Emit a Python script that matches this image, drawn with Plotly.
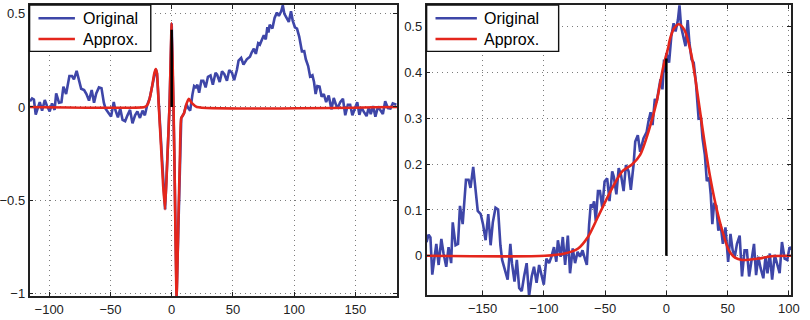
import plotly.graph_objects as go

# Measured signal (sample position, amplitude)
sig_x = [-195.7, -194.0, -192.5, -191.0, -189.0, -187.7, -185.8, -183.6, -181.8, -179.6,
         -177.7, -175.6, -174.3, -172.0, -170.0, -168.4, -166.2, -163.5, -161.4, -159.8,
         -157.6, -155.5, -153.9, -151.5, -149.6, -147.5, -145.3, -143.4, -141.6, -139.4,
         -137.3, -135.4, -134.0, -131.4, -129.5, -127.3, -126.0, -123.9, -122.0, -120.1,
         -118.0, -116.1, -114.0, -112.0, -109.9, -108.0, -105.9, -103.8, -101.9, -100.0,
         -97.9, -95.7, -93.8, -91.7, -89.8, -88.5, -86.3, -84.5, -82.6, -80.4,
         -78.6, -76.4, -74.5, -72.4, -70.5, -68.4, -66.5, -64.9, -63.0, -61.7,
         -60.3, -59.0, -57.6, -55.8, -54.2, -52.3, -50.4, -48.3, -46.4, -44.2,
         -42.9, -40.8, -38.9, -37.0, -34.9, -33.0, -30.8, -29.0, -26.8, -25.4,
         -23.3, -21.4, -18.7, -16.1, -14.7, -12.9, -11.3, -9.4, -8.0, -6.7,
         -4.8, -3.2, -1.9, -1.0, 0.0, 2.2, 4.0, 5.9, 7.5, 9.4,
         10.7, 12.0, 13.9, 15.6, 17.4, 18.8, 20.6, 22.3, 24.1, 26.3,
         28.2, 29.5, 31.4, 33.0, 34.9, 36.2, 37.5, 38.9, 40.7, 42.4,
         44.2, 46.1, 48.2, 50.4, 52.3, 54.1, 55.8, 57.6, 59.8, 61.7,
         63.8, 65.7, 67.5, 69.7, 71.5, 73.2, 75.0, 76.9, 79.1, 80.9,
         82.5, 84.4, 86.3, 88.4, 90.3, 92.4, 94.3, 96.5, 98.6, 100.5, 103.4]
sig_y = [0.030, 0.046, 0.040, -0.041, 0.000, 0.026, -0.020, 0.037, 0.005, -0.024,
         0.019, -0.016, 0.073, 0.023, 0.026, 0.109, 0.069, 0.166, 0.166, 0.148,
         0.194, 0.144, 0.098, 0.091, 0.069, 0.034, 0.091, 0.023, 0.073, 0.105,
         0.101, 0.023, -0.009, -0.034, -0.052, 0.026, -0.016, -0.056, -0.009, -0.070,
         -0.077, -0.045, -0.016, -0.088, -0.045, -0.024, -0.059, -0.020, -0.045, -0.063,
         -0.006, -0.016, -0.002, 0.019, -0.013, 0.034, -0.002, 0.041, -0.020, 0.044,
         -0.038, 0.016, -0.016, 0.009, -0.002, 0.012, -0.006, -0.020, 0.069, 0.112,
         0.105, 0.119, 0.076, 0.141, 0.141, 0.105, 0.162, 0.169, 0.119, 0.184,
         0.173, 0.134, 0.191, 0.176, 0.141, 0.198, 0.184, 0.144, 0.198, 0.249,
         0.263, 0.227, 0.256, 0.270, 0.292, 0.313, 0.285, 0.342, 0.335, 0.356,
         0.385, 0.363, 0.428, 0.400, 0.442, 0.421, 0.478, 0.507, 0.489, 0.514,
         0.546, 0.500, 0.478, 0.457, 0.514, 0.464, 0.428, 0.421, 0.378, 0.299,
         0.300, 0.256, 0.220, 0.163, 0.170, 0.134, 0.069, 0.112, 0.109, 0.055,
         0.069, 0.026, 0.062, -0.013, 0.048, 0.012, -0.002, 0.026, 0.044, -0.045,
         0.012, 0.012, -0.045, -0.009, 0.026, -0.042, -0.002, -0.027, -0.049, -0.002,
         -0.038, 0.005, -0.052, 0.002, -0.016, -0.038, 0.030, -0.006, -0.009, 0.019, 0.012]

# Lag between the two views of the signal
lag = 80.0

# Left panel approximation (oscillating pulse around the origin)
wav_x = [-116, -22, -20, -18, -16, -14.2, -13, -12, -10.5, -8.8, -7, -5.4, -3.5, -1.8, 0,
         1.5, 2.2, 4, 5.5, 6.7, 7.8, 10, 12, 14, 16.5, 20.5, 184]
wav_y = [0, 0, 0.01, 0.045, 0.11, 0.18, 0.203, 0.18, 0, -0.2, -0.42, -0.55, -0.27, 0, 0.45,
         0, -0.27, -1.02, -0.6, -0.27, -0.06, -0.035, 0.015, 0.044, 0.02, 0, 0]

# Right panel approximation (smooth envelope)
env_x = [-196, -99, -83, -72, -64, -56, -45.5, -36, -28, -21.4, -14.7, -8, -2.7, 1.4, 2.7,
         6, 10.2, 14.8, 20.1, 24.1, 29.5, 34.9, 40.2, 45.6, 51, 56, 61.7, 75, 85.8, 102]
env_y = [0, 0, 0.005, 0.016, 0.041, 0.084, 0.141, 0.184, 0.199, 0.22, 0.27, 0.335, 0.41,
         0.453, 0.47, 0.495, 0.505, 0.492, 0.442, 0.378, 0.277, 0.184, 0.112, 0.055, 0.012,
         -0.004, -0.009, -0.006, -0.001, 0]

# Stem heights at the origin
stem_left = 0.415
stem_right = 0.43

left_xticks = [-100, -50, 0, 50, 100, 150]
left_yticks = [-1, -0.5, 0, 0.5]
right_xticks = [-150, -100, -50, 0, 50, 100]
right_yticks = [0, 0.1, 0.2, 0.3, 0.4, 0.5]

series_names = ["Original", "Approx."]

BLUE = "rgb(62,70,168)"
RED = "rgb(228,38,28)"
W, H = 810, 320

# Left-panel original: shifted signal outside the pulse window, pulse inside it
lo, hi = -21.0, 12.0
left_x, left_y = [], []
for x, y in zip(sig_x, sig_y):
    if x + lag < lo:
        left_x.append(x + lag)
        left_y.append(y)
for x, y in zip(wav_x, wav_y):
    if lo <= x <= hi:
        left_x.append(x)
        left_y.append(y)
for x, y in zip(sig_x, sig_y):
    if x + lag > hi:
        left_x.append(x + lag)
        left_y.append(y)

fig = go.Figure()

fig.add_trace(go.Scatter(x=left_x, y=left_y, mode="lines", name=series_names[0],
                         line=dict(color=BLUE, width=2.6), xaxis="x", yaxis="y"))
fig.add_trace(go.Scatter(x=wav_x, y=wav_y, mode="lines", name=series_names[1],
                         line=dict(color=RED, width=2.6, shape="spline", smoothing=0.5),
                         xaxis="x", yaxis="y"))
fig.add_trace(go.Scatter(x=[0, 0], y=[0, stem_left], mode="lines",
                         line=dict(color="black", width=2.5), xaxis="x", yaxis="y"))

fig.add_trace(go.Scatter(x=sig_x, y=sig_y, mode="lines", name=series_names[0],
                         line=dict(color=BLUE, width=2.6), xaxis="x2", yaxis="y2"))
fig.add_trace(go.Scatter(x=env_x, y=env_y, mode="lines", name=series_names[1],
                         line=dict(color=RED, width=2.6, shape="spline", smoothing=0.8),
                         xaxis="x2", yaxis="y2"))
fig.add_trace(go.Scatter(x=[0, 0], y=[0, stem_right], mode="lines",
                         line=dict(color="black", width=2.5), xaxis="x2", yaxis="y2"))

axis_style = dict(showline=True, linecolor="#222", linewidth=1.6, mirror="ticks",
                  ticks="inside", ticklen=4, tickcolor="#222", showgrid=True,
                  gridcolor="rgba(110,110,110,0.9)", griddash="1px,4px", gridwidth=1,
                  zeroline=False, tickfont=dict(family="Liberation Sans", size=13, color="#222"))


def px(xp):
    return xp / W


def py(yp):
    return 1 - yp / H


# Boxed legends in the upper-left corner of each panel
shapes, annotations = [], []
legend_boxes = [
    dict(box=(27, 150), line=(36, 73), text=79),
    dict(box=(430, 564), line=(439, 481), text=486),
]
for lg in legend_boxes:
    shapes.append(dict(type="rect", xref="paper", yref="paper",
                       x0=px(lg["box"][0]), x1=px(lg["box"][1]), y0=py(52), y1=py(5),
                       fillcolor="white", line=dict(color="#111", width=1.4), layer="above"))
    for name, color, yl in zip(series_names, [BLUE, RED], [18.5, 39.5]):
        shapes.append(dict(type="line", xref="paper", yref="paper",
                           x0=px(lg["line"][0]), x1=px(lg["line"][1]), y0=py(yl), y1=py(yl),
                           line=dict(color=color, width=2.6), layer="above"))
        annotations.append(dict(xref="paper", yref="paper", x=px(lg["text"]), y=py(yl + 0.5),
                                xanchor="left", yanchor="middle", text=name, showarrow=False,
                                font=dict(family="Liberation Sans", size=16, color="black")))

fig.update_layout(
    width=W, height=H,
    margin=dict(l=0, r=0, t=0, b=0),
    paper_bgcolor="white", plot_bgcolor="white",
    showlegend=False,
    xaxis=dict(domain=[27 / W, 400 / W], range=[-116, 184], tickvals=left_xticks,
               anchor="y", **axis_style),
    yaxis=dict(domain=[py(300), py(5)], range=[-1.017, 0.548],
               tickvals=left_yticks, ticktext=["\u22121", "\u22120.5", "0", "0.5"],
               anchor="x", **axis_style),
    xaxis2=dict(domain=[430 / W, 800 / W], range=[-195.6, 101.8], tickvals=right_xticks,
                anchor="y2", **axis_style),
    yaxis2=dict(domain=[py(299), py(5)], range=[-0.086, 0.547],
                tickvals=right_yticks, anchor="x2", **axis_style),
    shapes=shapes,
    annotations=annotations,
)

fig.write_html("out.html")
